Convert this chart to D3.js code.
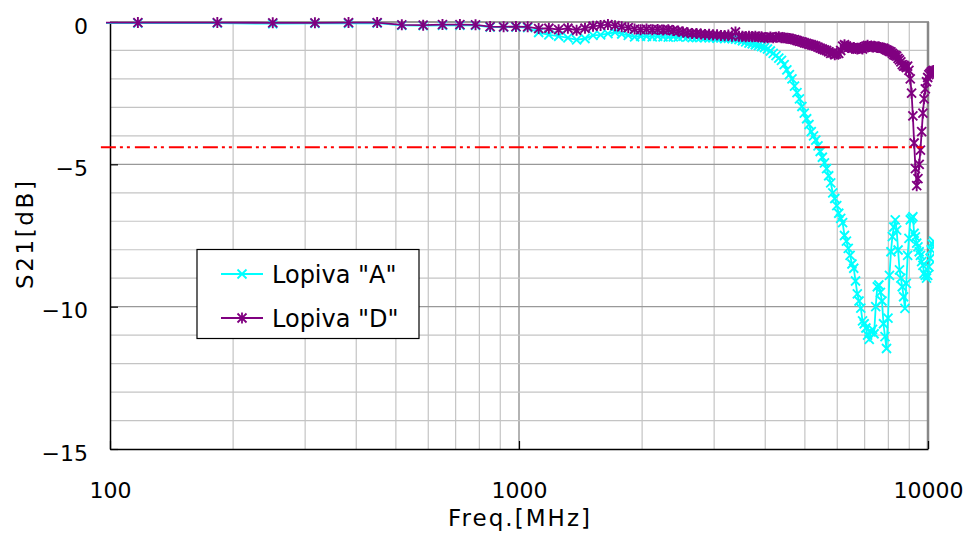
<!DOCTYPE html>
<html>
<head>
<meta charset="utf-8">
<script src="https://cdn.jsdelivr.net/npm/d3@7"></script>
<style>
  body { margin: 0; background: #fff; }
  svg { display: block; font-family: "DejaVu Sans", sans-serif; }
</style>
</head>
<body>
<svg width="964" height="533"></svg>
<script>
// sweep frequencies [MHz]
const freqs = [
    50, 117, 183, 250, 317, 383, 450, 517, 583, 650,
    717, 783, 850, 917, 983, 1050, 1117, 1183, 1250, 1317,
    1383, 1450, 1517, 1583, 1650, 1717, 1783, 1850, 1917, 1983,
    2050, 2117, 2183, 2250, 2317, 2383, 2450, 2517, 2583, 2650,
    2717, 2783, 2850, 2917, 2983, 3050, 3117, 3183, 3250, 3317,
    3383, 3450, 3517, 3583, 3650, 3717, 3783, 3850, 3917, 3983,
    4050, 4117, 4183, 4250, 4317, 4383, 4450, 4517, 4583, 4650,
    4717, 4783, 4850, 4917, 4983, 5050, 5117, 5183, 5250, 5317,
    5383, 5450, 5517, 5583, 5650, 5717, 5783, 5850, 5917, 5983,
    6050, 6117, 6183, 6250, 6317, 6383, 6450, 6517, 6583, 6650,
    6717, 6783, 6850, 6917, 6983, 7050, 7117, 7183, 7250, 7317,
    7383, 7450, 7517, 7583, 7650, 7717, 7783, 7850, 7917, 7983,
    8050, 8117, 8183, 8250, 8317, 8383, 8450, 8517, 8583, 8650,
    8717, 8783, 8850, 8917, 8983, 9050, 9117, 9183, 9250, 9317,
    9383, 9450, 9517, 9583, 9650, 9717, 9783, 9850, 9917, 9983,
    10050, 10117, 10183, 10250, 10317
];

// S21 [dB] for Lopiva "A"
const lopivaA = [
    -0.03, -0.04, -0.04, -0.06, -0.05, -0.05, -0.04, -0.12, -0.13, -0.12,
    -0.12, -0.12, -0.18, -0.18, -0.18, -0.2, -0.37, -0.45, -0.5, -0.56,
    -0.63, -0.58, -0.47, -0.45, -0.41, -0.36, -0.42, -0.47, -0.52, -0.5,
    -0.5, -0.52, -0.5, -0.52, -0.53, -0.52, -0.53, -0.5, -0.52, -0.55,
    -0.55, -0.53, -0.55, -0.56, -0.55, -0.57, -0.56, -0.58, -0.57, -0.58,
    -0.6, -0.62, -0.66, -0.7, -0.74, -0.77, -0.8, -0.83, -0.86, -0.9,
    -0.95, -1.02, -1.1, -1.18, -1.27, -1.35, -1.5, -1.68, -1.85, -2.0,
    -2.25, -2.48, -2.7, -2.97, -3.2, -3.4, -3.6, -3.85, -4.0, -4.15,
    -4.35, -4.55, -4.75, -4.95, -5.15, -5.4, -5.65, -6.0, -6.2, -6.45,
    -6.72, -6.9, -7.05, -7.5, -7.7, -7.95, -8.2, -8.5, -8.65, -9.1,
    -9.55, -9.8, -10.05, -10.5, -10.6, -10.75, -11.0, -11.15, -10.88, -10.8,
    -10.95, -10.0, -9.3, -9.24, -9.5, -9.8, -10.6, -11.05, -11.47, -10.4,
    -8.9, -8.07, -7.54, -7.2, -6.95, -7.31, -8.01, -8.71, -9.0, -9.3,
    -9.65, -10.06, -9.18, -8.2, -7.6, -6.95, -6.9, -6.84, -7.42, -7.55,
    -7.77, -7.9, -8.07, -8.2, -8.42, -8.55, -8.83, -8.9, -9.0, -8.9,
    -8.6, -8.3, -8.0, -7.8, -7.7
];

// S21 [dB] for Lopiva "D"
const lopivaD = [
    -0.02, -0.02, -0.02, -0.03, -0.03, -0.02, -0.02, -0.1, -0.11, -0.09,
    -0.09, -0.1, -0.16, -0.17, -0.16, -0.17, -0.23, -0.22, -0.27, -0.22,
    -0.29, -0.22, -0.15, -0.12, -0.09, -0.13, -0.17, -0.2, -0.25, -0.27,
    -0.25, -0.27, -0.26, -0.28, -0.27, -0.3, -0.32, -0.35, -0.38, -0.4,
    -0.4, -0.42, -0.44, -0.43, -0.46, -0.45, -0.47, -0.48, -0.46, -0.5,
    -0.35, -0.5, -0.5, -0.52, -0.5, -0.52, -0.5, -0.53, -0.52, -0.55,
    -0.55, -0.53, -0.55, -0.54, -0.52, -0.55, -0.55, -0.57, -0.58, -0.6,
    -0.62, -0.65, -0.68, -0.7, -0.73, -0.75, -0.78, -0.8, -0.82, -0.85,
    -0.88, -0.92, -0.95, -0.98, -1.0, -1.05, -1.1, -1.08, -1.15, -1.12,
    -1.1, -1.0, -0.85, -0.8, -0.85, -0.9, -0.88, -0.92, -0.9, -0.93,
    -0.95, -0.92, -0.9, -0.95, -0.9, -0.85, -0.82, -0.86, -0.85, -0.88,
    -0.85, -0.87, -0.9, -0.88, -0.9, -0.92, -0.92, -0.95, -0.98, -1.0,
    -1.03, -1.05, -1.1, -1.15, -1.17, -1.2, -1.28, -1.33, -1.4, -1.5,
    -1.55, -1.55, -1.6, -1.55, -1.7, -2.0, -2.5, -3.3, -4.25, -5.15,
    -5.75, -5.5, -5.0, -4.5, -3.85, -3.2, -2.7, -2.35, -2.1, -1.95,
    -1.85, -1.8, -1.75, -1.72, -1.7
];

const xTicks = [100, 1000, 10000];
const yTicks = [0, -5, -10, -15];
const xGrid = [200, 300, 400, 500, 600, 700, 800, 900, 1000,
    2000, 3000, 4000, 5000, 6000, 7000, 8000, 9000];
const yGrid = [-1, -2, -3, -4, -5, -6, -7, -8, -9, -10, -11, -12, -13, -14];

// red reference level (dash-dot-dot)
const refLevel = -4.4;
const refFrom = 95, refTo = 9720;

const series = [
    { name: 'Lopiva "A"', values: lopivaA, color: '#00ffff', marker: 'x' },
    { name: 'Lopiva "D"', values: lopivaD, color: '#800080', marker: 'star' }
];

const svg = d3.select('svg');
const plotL = 110, plotR = 928, plotT = 22, plotB = 449;

const x = d3.scaleLog().domain([100, 10000]).range([plotL, plotR]);
const y = d3.scaleLinear().domain([-15, 0]).range([plotB, plotT]);

// grid
svg.append('g').selectAll('line')
    .data(xGrid)
    .enter().append('line')
    .attr('x1', d => x(d)).attr('x2', d => x(d))
    .attr('y1', plotT).attr('y2', plotB)
    .attr('stroke', d => d === 1000 ? '#808080' : '#c4c4c4')
    .attr('stroke-width', 1.2);

svg.append('g').selectAll('line')
    .data(yGrid)
    .enter().append('line')
    .attr('x1', plotL).attr('x2', plotR)
    .attr('y1', d => y(d)).attr('y2', d => y(d))
    .attr('stroke', d => d % 5 === 0 ? '#999' : '#c4c4c4')
    .attr('stroke-width', 1.2);

// frame: top / right gray, left / bottom black
svg.append('line').attr('x1', plotL).attr('x2', plotR + 1).attr('y1', plotT).attr('y2', plotT)
    .attr('stroke', '#999').attr('stroke-width', 2);
svg.append('line').attr('x1', plotR).attr('x2', plotR).attr('y1', plotT).attr('y2', plotB)
    .attr('stroke', '#888').attr('stroke-width', 2.5);

// axes
const fmt = d => d < 0 ? '\u2212' + Math.abs(d) : String(d);

const yAxis = svg.append('g')
    .attr('transform', `translate(${plotL},0)`)
    .call(d3.axisLeft(y).tickValues(yTicks).tickFormat(fmt).tickSize(-8).tickSizeOuter(0).tickPadding(22));
yAxis.select('.domain').attr('stroke', '#000').attr('stroke-width', 1.5);
yAxis.selectAll('.tick line').attr('stroke', '#000').attr('stroke-width', 1.2);
yAxis.selectAll('text').attr('font-size', 22).attr('fill', '#000')
    .attr('font-family', '"DejaVu Sans", sans-serif').attr('dy', '0.5em');

const xAxis = svg.append('g')
    .attr('transform', `translate(0,${plotB})`)
    .call(d3.axisBottom(x).tickValues(xTicks).tickFormat(d => d).tickSize(-8).tickSizeOuter(0).tickPadding(33));
xAxis.select('.domain').attr('stroke', '#000').attr('stroke-width', 1.5);
xAxis.selectAll('.tick line').attr('stroke', '#000').attr('stroke-width', 1.2);
xAxis.selectAll('text').attr('font-size', 22).attr('fill', '#000')
    .attr('font-family', '"DejaVu Sans", sans-serif');

// axis titles
svg.append('text')
    .attr('x', 519).attr('y', 526)
    .attr('text-anchor', 'middle')
    .attr('font-size', 23)
    .attr('textLength', 142).attr('lengthAdjust', 'spacing')
    .text('Freq.[MHz]');

svg.append('text')
    .attr('transform', 'translate(33,235) rotate(-90)')
    .attr('text-anchor', 'middle')
    .attr('font-size', 23)
    .attr('textLength', 108).attr('lengthAdjust', 'spacing')
    .text('S21[dB]');

// data
svg.append('clipPath').attr('id', 'clip')
    .append('rect').attr('x', 106).attr('y', 0).attr('width', 828).attr('height', 533);

const plot = svg.append('g').attr('clip-path', 'url(#clip)');

const line = d3.line()
    .x(d => x(d.f))
    .y(d => y(d.v));

const markerPath = {
    x: 'M-4.5,-4.5L4.5,4.5M-4.5,4.5L4.5,-4.5',
    star: 'M-4.5,-4.5L4.5,4.5M-4.5,4.5L4.5,-4.5M0,-5.5L0,5.5'
};

series.forEach(s => {
    const pts = freqs.map((f, i) => ({ f: f, v: s.values[i] }));
    plot.append('path')
        .datum(pts)
        .attr('fill', 'none')
        .attr('stroke', s.color)
        .attr('stroke-width', 1.8)
        .attr('d', line);

    plot.append('g').selectAll('path')
        .data(pts.filter(d => d.f >= 100))
        .enter().append('path')
        .attr('transform', d => `translate(${x(d.f)},${y(d.v)})`)
        .attr('d', markerPath[s.marker])
        .attr('fill', 'none')
        .attr('stroke', s.color)
        .attr('stroke-width', 1.9);
});

// reference level
svg.append('line')
    .attr('x1', x(refFrom)).attr('x2', x(refTo))
    .attr('y1', y(refLevel)).attr('y2', y(refLevel))
    .attr('stroke', '#ff0000')
    .attr('stroke-width', 1.8)
    .attr('stroke-dasharray', '15,4,3,4,3,5');

// legend
const legend = svg.append('g');
legend.append('rect')
    .attr('x', 197).attr('y', 249.5).attr('width', 222).attr('height', 89)
    .attr('fill', '#fff').attr('stroke', '#000').attr('stroke-width', 1.2);

const items = legend.selectAll('g.item')
    .data(series)
    .enter().append('g')
    .attr('class', 'item')
    .attr('transform', (d, i) => `translate(0,${274 + i * 44})`);

items.append('line')
    .attr('x1', 221).attr('x2', 263)
    .attr('stroke', d => d.color).attr('stroke-width', 1.8);
items.append('path')
    .attr('transform', 'translate(242,0)')
    .attr('d', d => markerPath[d.marker])
    .attr('fill', 'none')
    .attr('stroke', d => d.color).attr('stroke-width', 1.8);
items.append('text')
    .attr('x', 272).attr('y', 9)
    .attr('font-size', 24)
    .text(d => d.name);
</script>
</body>
</html>
